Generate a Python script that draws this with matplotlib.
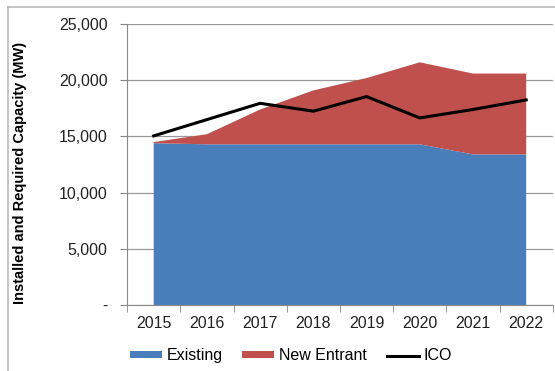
import matplotlib.pyplot as plt
from matplotlib.lines import Line2D
import numpy as np

years = ['2015', '2016', '2017', '2018', '2019', '2020', '2021', '2022']
existing = [14400, 14300, 14300, 14300, 14300, 14300, 13400, 13400]
total = [14500, 15200, 17400, 19100, 20200, 21600, 20600, 20600]
new_entrant = [t - e for t, e in zip(total, existing)]
ico = [15050, 16500, 17950, 17250, 18550, 16650, 17400, 18250]

plt.rcParams['font.family'] = ['Liberation Sans', 'DejaVu Sans']

fig = plt.figure(figsize=(5.55, 3.71), dpi=100)
ax = fig.add_axes([0.229, 0.178, 0.767, 0.757])

x = np.arange(len(years))
ax.stackplot(x, existing, new_entrant, colors=['#4a7ebb', '#c0504d'],
             labels=['Existing', 'New Entrant'], zorder=2)
ax.plot(x, ico, color='black', lw=2.2, label='ICO', zorder=3)

ax.set_xlim(-0.5, len(years) - 0.5)
ax.set_ylim(0, 25000)
ax.set_yticks(np.arange(0, 25001, 5000))
ax.set_yticklabels(['-'] + [f'{v:,}' for v in range(5000, 25001, 5000)])
ax.set_xticks(x)
ax.set_xticklabels(years)
ax.set_xticks(np.arange(-0.5, len(years)), minor=True)
ax.tick_params(axis='x', which='major', length=0, pad=8, labelsize=11.5, colors='#222222')
ax.tick_params(axis='x', which='minor', length=5, color='#888888')
ax.tick_params(axis='y', length=5, color='#888888', labelsize=11.5, colors='#222222', pad=9)
ax.yaxis.grid(True, color='#999999', lw=0.9, zorder=0)
ax.set_axisbelow(True)
for s in ['top', 'right']:
    ax.spines[s].set_visible(False)
ax.spines['left'].set_color('#888888')
ax.spines['bottom'].set_color('#888888')

ax.set_ylabel('Installed and Required Capacity (MW)', fontsize=10.5, fontweight='bold')
ax.yaxis.set_label_coords(-0.235, 0.47)

fig.legend(loc='lower center', bbox_to_anchor=(0.524, -0.018), ncol=3, frameon=False,
           fontsize=11.5, handlelength=2.0, handleheight=0.3, columnspacing=1.25, handletextpad=0.3)

# frame lines along the top and left edges
fig.add_artist(Line2D([0.0145, 1.0], [0.981, 0.981], transform=fig.transFigure, color='#bbbbbb', lw=1.2))
fig.add_artist(Line2D([0.0145, 0.0145], [0.0, 0.981], transform=fig.transFigure, color='#bbbbbb', lw=1.2))

fig.savefig('out.png', dpi=100)
